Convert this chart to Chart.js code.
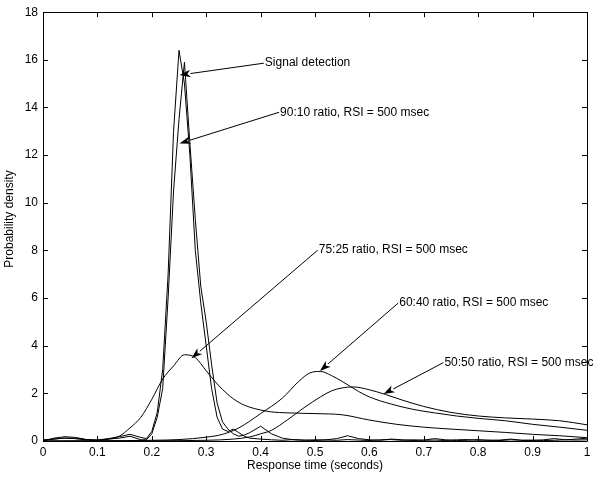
<!DOCTYPE html>
<html>
<head>
<meta charset="utf-8">
<script src="https://cdn.jsdelivr.net/npm/chart.js@4/dist/chart.umd.min.js"></script>
<style>
  html, body { margin: 0; padding: 0; background: #fff; }
  #wrap { width: 600px; height: 484px; position: relative; }
</style>
</head>
<body>
<div id="wrap"><canvas id="c" width="600" height="484"></canvas></div>
<script>
// ---- data ----
const narrowX = [0,0.02,0.04,0.06,0.08,0.1,0.12,0.14,0.16,0.18,
  0.19,0.2,0.21,0.22,0.23,0.24,0.25,0.26,0.27,0.28,
  0.29,0.3,0.31,0.32,0.33,0.34,0.35,0.36,0.37,0.38,
  0.4,0.42,0.44,0.46,0.48,0.5,0.52,0.54,0.56,0.58,
  0.6,0.62,0.64,0.66,0.68,0.7,0.72,0.74,0.76,0.78,
  0.8,0.82,0.84,0.86,0.88,0.9,0.92,0.94,0.96,0.98,1.0];
const signalY = [0,0.12,0.18,0.15,0.06,0.04,0.1,0.18,0.28,0.15,
  0.1,0.4,1.2,3.0,7.0,13.0,16.4,15.0,12.0,8.0,
  5.8,4.0,2.2,1.0,0.5,0.4,0.5,0.35,0.2,0.12,
  0.08,0.05,0.03,0.06,0.04,0.02,0.05,0.1,0.22,0.1,
  0.05,0.03,0.08,0.05,0.02,0.04,0.1,0.05,0.02,0.03,
  0.06,0.02,0.04,0.08,0.03,0.02,0.05,0.1,0.05,0.08,0.12];
const r9010Y = [0.05,0.08,0.12,0.1,0.05,0.02,0.08,0.12,0.2,0.05,
  0.05,0.3,1.0,2.2,6.0,10.5,13.5,15.9,12.5,9.3,
  6.5,5.0,3.2,1.6,0.8,0.5,0.3,0.2,0.25,0.35,
  0.62,0.3,0.12,0.05,0.03,0.05,0.04,0.03,0.06,0.04,
  0.02,0.05,0.06,0.03,0.05,0.03,0.04,0.02,0.05,0.06,
  0.03,0.04,0.02,0.05,0.03,0.04,0.02,0.03,0.05,0.04,0.05];
const r7525X = [0,0.02,0.04,0.06,0.08,0.1,0.12,0.14,0.16,0.18,0.2,0.22,0.24,0.26,0.28,0.3,0.32,0.34,0.36,0.38,0.4,0.42,0.45,0.5,0.55,0.6,0.65,0.7,0.75,0.8,0.85,0.9,0.95,1.0];
const r7525Y = [0.02,0.08,0.12,0.1,0.06,0.04,0.08,0.2,0.55,1.0,1.75,2.6,3.15,3.62,3.5,2.95,2.4,1.95,1.62,1.42,1.3,1.22,1.18,1.15,1.1,0.88,0.7,0.58,0.5,0.43,0.36,0.28,0.22,0.14];
const r6040X = [0,0.1,0.2,0.25,0.3,0.33,0.36,0.4,0.44,0.47,0.49,0.51,0.53,0.55,0.58,0.6,0.64,0.68,0.72,0.76,0.8,0.85,0.9,0.95,1.0];
const r6040Y = [0,0.01,0.03,0.06,0.16,0.28,0.55,1.15,1.8,2.5,2.85,2.92,2.75,2.5,2.08,1.85,1.55,1.33,1.18,1.05,0.95,0.85,0.7,0.58,0.45];
const r5050X = [0,0.2,0.3,0.35,0.38,0.4,0.42,0.45,0.48,0.51,0.53,0.55,0.57,0.6,0.63,0.66,0.7,0.75,0.8,0.85,0.9,0.95,1.0];
const r5050Y = [0,0.01,0.03,0.08,0.17,0.3,0.45,0.9,1.4,1.85,2.1,2.23,2.27,2.15,1.95,1.72,1.45,1.2,1.05,0.97,0.92,0.85,0.68];
const seriesNames = ['Signal detection','90:10 ratio, RSI = 500 msec','75:25 ratio, RSI = 500 msec','60:40 ratio, RSI = 500 msec','50:50 ratio, RSI = 500 msec'];
const xTickLabels = ['0','0.1','0.2','0.3','0.4','0.5','0.6','0.7','0.8','0.9','1'];
const xTitle = 'Response time (seconds)';
const yTitle = 'Probability density';

function pts(xs, ys){ return xs.map((x,i)=>({x:x, y:ys[i]})); }

const FONT = 'Helvetica, "Liberation Sans", Arial, sans-serif';

// annotation anchors (data coords): text start and arrow tip
const annoPos = [
  {tx:0.406, ty:15.86, ax:0.251, ay:15.36},
  {tx:0.434, ty:13.80, ax:0.251, ay:12.49},
  {tx:0.505, ty:8.01,  ax:0.273, ay:3.47},
  {tx:0.653, ty:5.79,  ax:0.509, ay:2.94},
  {tx:0.736, ty:3.29,  ax:0.626, ay:1.97}
];

const framePlugin = {
  id: 'frame',
  afterDraw(chart){
    const ctx = chart.ctx, a = chart.chartArea;
    const xs = chart.scales.x, ys = chart.scales.y;
    ctx.save();
    ctx.strokeStyle = '#000';
    ctx.lineWidth = 1;
    ctx.beginPath();
    ctx.rect(Math.round(a.left)+0.5, Math.round(a.top)+0.5, Math.round(a.right-a.left), Math.round(a.bottom-a.top));
    ctx.stroke();
    const L = 5;
    ctx.beginPath();
    xs.ticks.forEach(t=>{
      const px = Math.round(xs.getPixelForValue(t.value))+0.5;
      ctx.moveTo(px, a.bottom); ctx.lineTo(px, a.bottom-L);
      ctx.moveTo(px, a.top); ctx.lineTo(px, a.top+L);
    });
    ys.ticks.forEach(t=>{
      const py = Math.round(ys.getPixelForValue(t.value))+0.5;
      ctx.moveTo(a.left, py); ctx.lineTo(a.left+L, py);
      ctx.moveTo(a.right, py); ctx.lineTo(a.right-L, py);
    });
    ctx.stroke();

    // axis titles
    ctx.fillStyle = '#000';
    ctx.font = '12px ' + FONT;
    ctx.textAlign = 'center';
    ctx.textBaseline = 'middle';
    ctx.fillText(xTitle, (a.left+a.right)/2, 466);
    ctx.save();
    ctx.translate(10, 219);
    ctx.rotate(-Math.PI/2);
    ctx.fillText(yTitle, 0, 0);
    ctx.restore();

    // annotations with arrows
    annoPos.forEach((p,i)=>{
      const tx = xs.getPixelForValue(p.tx), ty = ys.getPixelForValue(p.ty);
      const ax = xs.getPixelForValue(p.ax), ay = ys.getPixelForValue(p.ay);
      ctx.textAlign = 'left';
      ctx.textBaseline = 'middle';
      ctx.fillText(seriesNames[i], tx+1, ty);
      const ang = Math.atan2(ay-ty, ax-tx);
      const len = 11, hw = 3.8;
      const bx = ax - len*Math.cos(ang), by = ay - len*Math.sin(ang);
      ctx.beginPath();
      ctx.moveTo(tx, ty); ctx.lineTo(bx, by);
      ctx.stroke();
      ctx.beginPath();
      ctx.moveTo(ax, ay);
      ctx.lineTo(bx + hw*Math.sin(ang), by - hw*Math.cos(ang));
      ctx.lineTo(bx + 3*Math.cos(ang), by + 3*Math.sin(ang));
      ctx.lineTo(bx - hw*Math.sin(ang), by + hw*Math.cos(ang));
      ctx.closePath();
      ctx.fill();
    });
    ctx.restore();
  }
};

const lineStyle = {borderColor:'#000', borderWidth:1, pointRadius:0, fill:false};

new Chart(document.getElementById('c'), {
  type: 'line',
  data: {
    datasets: [
      Object.assign({label: seriesNames[0], data: pts(narrowX, signalY), tension:0}, lineStyle),
      Object.assign({label: seriesNames[1], data: pts(narrowX, r9010Y), tension:0}, lineStyle),
      Object.assign({label: seriesNames[2], data: pts(r7525X, r7525Y), cubicInterpolationMode:'monotone'}, lineStyle),
      Object.assign({label: seriesNames[3], data: pts(r6040X, r6040Y), cubicInterpolationMode:'monotone'}, lineStyle),
      Object.assign({label: seriesNames[4], data: pts(r5050X, r5050Y), cubicInterpolationMode:'monotone'}, lineStyle)
    ]
  },
  options: {
    responsive: false,
    animation: false,
    events: [],
    layout: { padding: { top: 12, right: 13, left: 0, bottom: 0 } },
    plugins: { legend: {display:false}, tooltip: {enabled:false}, title:{display:false} },
    scales: {
      x: {
        type: 'linear', min: 0, max: 1,
        grid: { display: false, drawTicks: false },
        border: { display: false },
        ticks: {
          stepSize: 0.1, color: '#000', padding: 4,
          font: { family: FONT, size: 12 },
          callback: (v, i) => xTickLabels[i]
        },
        afterFit: s => { s.height = 43; }
      },
      y: {
        min: 0, max: 18,
        grid: { display: false, drawTicks: false },
        border: { display: false },
        ticks: {
          stepSize: 2, color: '#000', padding: 5,
          font: { family: FONT, size: 12 }
        },
        afterFit: s => { s.width = 43; }
      }
    }
  },
  plugins: [framePlugin]
});
</script>
</body>
</html>
